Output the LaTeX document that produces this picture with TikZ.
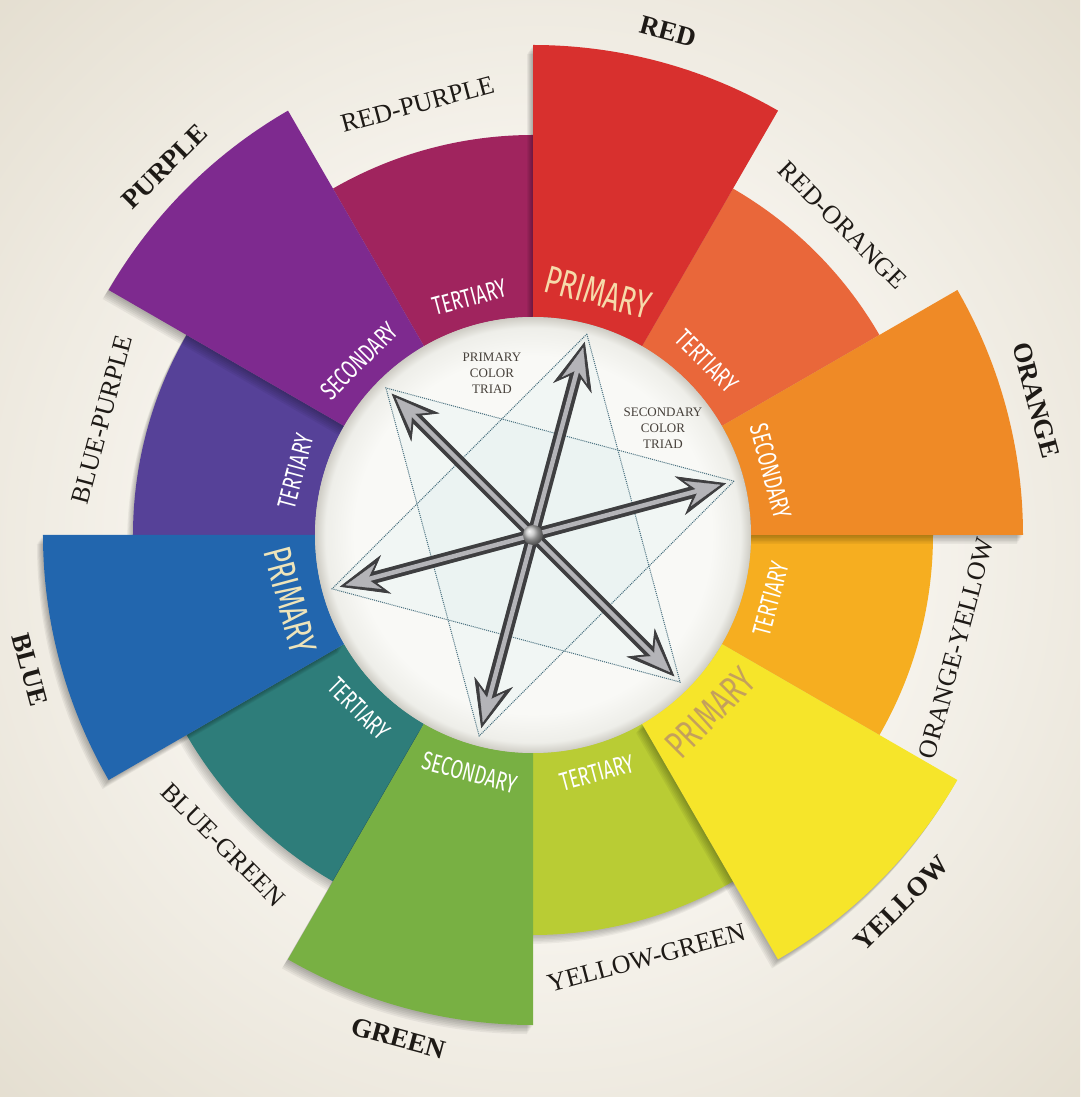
\documentclass[tikz,border=0pt]{standalone}
\usepackage{fontspec}
\setmainfont{Liberation Serif}
\newfontfamily\condfont[FakeStretch=0.7]{Fira Sans}
\usetikzlibrary{arrows.meta}
\definecolor{bgA}{RGB}{245,242,235}
\definecolor{bgB}{RGB}{228,222,208}
\definecolor{cR}{RGB}{216,48,46}
\definecolor{cRO}{RGB}{233,103,58}
\definecolor{cO}{RGB}{239,138,38}
\definecolor{cOY}{RGB}{246,174,32}
\definecolor{cY}{RGB}{246,229,42}
\definecolor{cYG}{RGB}{185,204,52}
\definecolor{cG}{RGB}{120,176,67}
\definecolor{cBG}{RGB}{46,125,122}
\definecolor{cB}{RGB}{34,102,174}
\definecolor{cBP}{RGB}{86,65,152}
\definecolor{cP}{RGB}{126,42,143}
\definecolor{cRP}{RGB}{160,36,94}
\definecolor{discW}{RGB}{249,249,246}
\definecolor{discE}{RGB}{238,238,233}
\definecolor{discD}{RGB}{206,204,196}
\definecolor{creamP}{RGB}{246,218,170}
\definecolor{creamB}{RGB}{238,228,186}
\definecolor{tanY}{RGB}{196,160,92}
\definecolor{dashc}{RGB}{70,110,125}
\definecolor{starc}{RGB}{205,232,235}
\definecolor{metalD}{RGB}{62,62,64}
\definecolor{metalL}{RGB}{180,180,184}
\definecolor{txtc}{RGB}{30,26,22}
\definecolor{triadc}{RGB}{70,64,58}
\pgfdeclareradialshading{bgshade}{\pgfpoint{0bp}{0bp}}{color(0bp)=(bgA); color(18bp)=(bgA); color(36bp)=(bgB); color(50bp)=(bgB)}
\pgfdeclareradialshading{discshade}{\pgfpoint{0bp}{0bp}}{color(0bp)=(discW); color(20.5bp)=(discW); color(23.8bp)=(discE); color(25bp)=(discD); color(50bp)=(discD)}
\newcommand\sectorfill[4]{%
  \fill[#1] (#2:218) arc[start angle=#2, end angle=#3, radius=218] -- (#3:#4) arc[start angle=#3, end angle=#2, radius=#4] -- cycle;}
\newcommand\sectorshadow[3]{%
  \foreach \k in {1,...,6}{\fill[black, opacity=0.05, shift={(-1.0*\k,-1.5*\k)}] (#1:218) arc[start angle=#1, end angle=#2, radius=218] -- (#2:#3) arc[start angle=#2, end angle=#1, radius=#3] -- cycle;}}
\tikzset{
  mainlbl/.style={font=\fontsize{27}{27}\selectfont\bfseries, text=txtc, inner sep=0pt},
  terlbl/.style={font=\fontsize{26}{26}\selectfont, text=txtc, inner sep=0pt},
  primlbl/.style={font=\condfont\fontsize{39}{39}\selectfont, inner sep=0pt},
  seclbl/.style={font=\condfont\fontsize{26}{26}\selectfont, text=white, inner sep=0pt},
  triadlbl/.style={font=\fontsize{13}{16}\selectfont, text=triadc, align=center, inner sep=0pt},
  triangle/.style={draw=dashc, line width=1pt, densely dotted},
  arrshadow/.style={line width=12pt, draw=black, opacity=0.16,
    arrows={Stealth[length=48pt,width=40pt,inset=16pt,line width=0.5pt]-Stealth[length=48pt,width=40pt,inset=16pt,line width=0.5pt]}},
  arrouter/.style={line width=12pt, draw=metalD,
    arrows={Stealth[length=48pt,width=40pt,inset=16pt,line width=0.8pt]-Stealth[length=48pt,width=40pt,inset=16pt,line width=0.8pt]}},
  arrinner/.style={line width=4.5pt, draw=metalL, shorten <=6pt, shorten >=6pt,
    arrows={Stealth[length=34pt,width=26pt,inset=11pt,line width=0.3pt]-Stealth[length=34pt,width=26pt,inset=11pt,line width=0.3pt]}},
}
\begin{document}
\begin{tikzpicture}[x=1pt,y=1pt]
\useasboundingbox (-533,-562) rectangle (547,535);
\shade[shading=bgshade] (-533,-562) rectangle (547,535);
% ring shadow
\foreach \k in {1,...,6}{\fill[black, opacity=0.045, shift={(-1.0*\k,-1.5*\k)}] (0,0) circle (400);}
% tertiary segments
\sectorfill{cRO}{30}{60}{400}
\sectorfill{cOY}{-30}{0}{400}
\sectorfill{cYG}{-90}{-60}{400}
\sectorfill{cBG}{-150}{-120}{400}
\sectorfill{cBP}{150}{180}{400}
\sectorfill{cRP}{90}{120}{400}
% primary and secondary segments
\sectorshadow{60}{90}{490}\sectorfill{cR}{60}{90}{490}
\sectorshadow{0}{30}{490}\sectorfill{cO}{0}{30}{490}
\sectorshadow{-60}{-30}{490}\sectorfill{cY}{-60}{-30}{490}
\sectorshadow{-120}{-90}{490}\sectorfill{cG}{-120}{-90}{490}
\sectorshadow{180}{210}{490}\sectorfill{cB}{180}{210}{490}
\sectorshadow{120}{150}{490}\sectorfill{cP}{120}{150}{490}
% inner disc
\shade[shading=discshade] (0,0) circle (218);
% star
\coordinate (vR) at (75:208);
\coordinate (vY) at (315:208);
\coordinate (vB) at (195:208);
\coordinate (vO) at (15:208);
\coordinate (vG) at (255:208);
\coordinate (vP) at (135:208);
\fill[starc, opacity=0.16] (vR) -- (vY) -- (vB) -- cycle;
\fill[starc, opacity=0.16] (vO) -- (vG) -- (vP) -- cycle;
\draw[triangle] (vR) -- (vY) -- (vB) -- cycle;
\draw[triangle] (vO) -- (vG) -- (vP) -- cycle;
% arrows
\coordinate (aR) at (75:200);
\coordinate (aG) at (255:200);
\coordinate (aP) at (135:200);
\coordinate (aY) at (315:200);
\coordinate (aO) at (15:200);
\coordinate (aB) at (195:200);
\begin{scope}[shift={(-6,-9)}]
\draw[arrshadow] (aG) -- (aR);
\draw[arrshadow] (aY) -- (aP);
\draw[arrshadow] (aB) -- (aO);
\end{scope}
\draw[arrouter] (aG) -- (aR);
\draw[arrouter] (aY) -- (aP);
\draw[arrouter] (aB) -- (aO);
\draw[arrinner] (aG) -- (aR);
\draw[arrinner] (aY) -- (aP);
\draw[arrinner] (aB) -- (aO);
\shade[ball color=gray!50] (0,0) circle (10);
% triad labels
\node[triadlbl] (tp) at (-41,162) {PRIMARY\\COLOR\\TRIAD};
\node[triadlbl] (ts) at (130,107) {SECONDARY\\COLOR\\TRIAD};
% inner labels
\node[primlbl, text=creamP, rotate=-15] (i1) at (75:251) {PRIMARY};
\node[seclbl, rotate=-45] (i2) at (45:246) {TERTIARY};
\node[seclbl, rotate=-75] (i3) at (15:246) {SECONDARY};
\node[seclbl, rotate=75] (i4) at (-15:246) {TERTIARY};
\node[primlbl, text=tanY, rotate=45] (i5) at (-45:251) {PRIMARY};
\node[seclbl, rotate=15] (i6) at (-75:246) {TERTIARY};
\node[seclbl, rotate=-15] (i7) at (-105:246) {SECONDARY};
\node[seclbl, rotate=-45] (i8) at (-135:246) {TERTIARY};
\node[primlbl, text=creamB, rotate=-75] (i9) at (-165:251) {PRIMARY};
\node[seclbl, rotate=75] (i10) at (165:246) {TERTIARY};
\node[seclbl, rotate=45] (i11) at (135:246) {SECONDARY};
\node[seclbl, rotate=15] (i12) at (105:246) {TERTIARY};
% outer main labels
\node[mainlbl, rotate=-15] (oR) at (75:521) {RED};
\node[mainlbl, rotate=-75] (oO) at (15:521) {ORANGE};
\node[mainlbl, rotate=45] (oY) at (-45:521) {YELLOW};
\node[mainlbl, rotate=-15] (oG) at (-105:521) {GREEN};
\node[mainlbl, rotate=-75] (oB) at (-165:521) {BLUE};
\node[mainlbl, rotate=45] (oP) at (135:521) {PURPLE};
% outer tertiary labels
\node[terlbl, rotate=-45] (oRO) at (45:438) {RED-ORANGE};
\node[terlbl, rotate=75] (oOY) at (-15:438) {ORANGE-YELLOW};
\node[terlbl, rotate=15] (oYG) at (-75:438) {YELLOW-GREEN};
\node[terlbl, rotate=-45] (oBG) at (-135:438) {BLUE-GREEN};
\node[terlbl, rotate=75] (oBP) at (165:446) {BLUE-PURPLE};
\node[terlbl, rotate=15] (oRP) at (105:446) {RED-PURPLE};
\end{tikzpicture}
\end{document}
